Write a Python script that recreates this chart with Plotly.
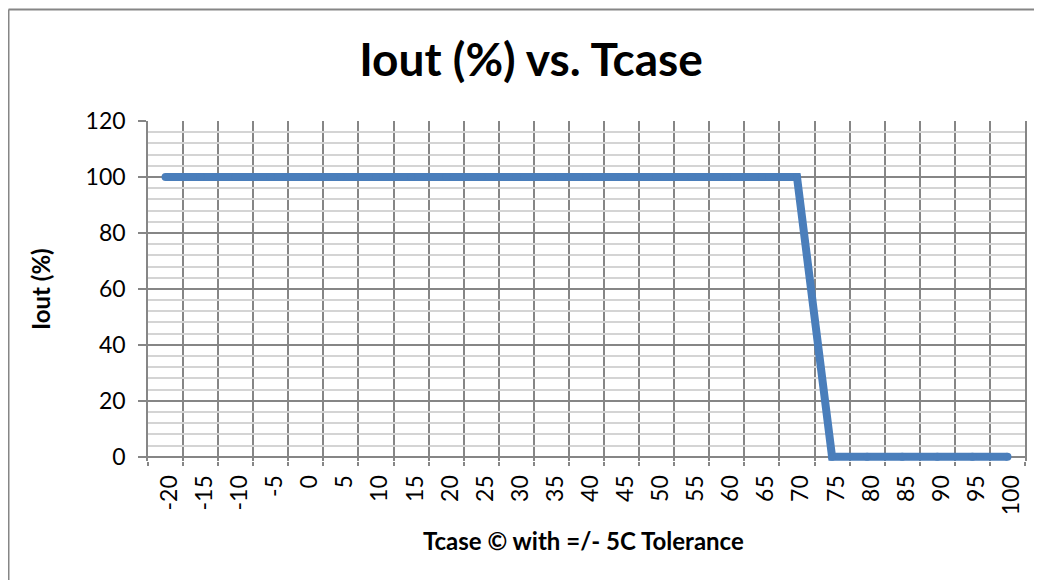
import plotly.graph_objects as go

# Data
tcase = [-20, -15, -10, -5, 0, 5, 10, 15, 20, 25, 30, 35, 40, 45, 50, 55, 60, 65, 70,
         75, 80, 85, 90, 95, 100]
iout = [100, 100, 100, 100, 100, 100, 100, 100, 100, 100, 100, 100, 100, 100, 100, 100, 100, 100, 100,
        0, 0, 0, 0, 0, 0]
tick_labels = ["-20", "-15", "-10", "-5", "0", "5", "10", "15", "20", "25", "30", "35", "40",
               "45", "50", "55", "60", "65", "70", "75", "80", "85", "90", "95", "100"]
y_ticks = [0, 20, 40, 60, 80, 100, 120]

GRID = "#868686"
MINOR = "#d4d4d4"
LINE = "#4a7ebb"
FONT = "Lato"

OFF = 8  # page body margin
W, H = 1034, 572
L, R, T, B = 140, 17, 113, 119
pw = W - L - R
ph = H - T - B


def px_x(p):
    # screen px -> paper coords
    return (p - OFF - L) / pw


def px_y(p):
    return (H - B - (p - OFF)) / ph


fig = go.Figure()
fig.add_trace(go.Scatter(
    x=tcase, y=iout, mode="lines+markers",
    line=dict(color=LINE, width=8),
    marker=dict(color=LINE, size=8, line=dict(width=0)),
    showlegend=False, hoverinfo="x+y",
))

fig.update_layout(
    width=W, height=H,
    margin=dict(l=L, r=R, t=T, b=B, autoexpand=False),
    paper_bgcolor="white", plot_bgcolor="white",
    title=dict(
        text="Iout (%) vs. Tcase",
        font=dict(family=FONT, size=46, color="black", weight="bold"),
        x=(531 - OFF) / W, xanchor="center", xref="container",
        y=1 - (60 - OFF) / H, yanchor="middle", yref="container",
    ),
    xaxis=dict(
        range=[-22.5, 102.5],
        tickmode="array", tickvals=tcase, ticktext=tick_labels,
        tickangle=-90,
        ticks="outside", ticklen=4, tickcolor="rgba(0,0,0,0)",
        ticklabelshift=4,
        tickfont=dict(family=FONT, size=23, color="black"),
        showgrid=False, zeroline=False, showline=False,
        minor=dict(tick0=-22.5, dtick=5, ticks="outside", ticklen=4,
                   tickcolor=GRID, tickwidth=1.5,
                   showgrid=True, gridcolor=GRID, gridwidth=1.5),
    ),
    yaxis=dict(
        range=[-1.5, 120],
        tickmode="array", tickvals=y_ticks,
        ticks="outside", ticklen=8, tickcolor=GRID, tickwidth=1.5,
        tickfont=dict(family=FONT, size=23, color="black"),
        ticklabelstandoff=8,
        showgrid=True, gridcolor=GRID, gridwidth=1.5,
        zeroline=True, zerolinecolor=GRID, zerolinewidth=1.5,
        showline=True, linecolor=GRID, linewidth=1.5, mirror=True,
        minor=dict(dtick=4, tick0=0, showgrid=True, gridcolor=MINOR, gridwidth=1.5, ticks=""),
    ),
    annotations=[
        dict(text="Tcase \u00a9 with =/- 5C Tolerance", xref="paper", yref="paper",
             x=px_x(583), y=px_y(540), xanchor="center", yanchor="middle", showarrow=False,
             font=dict(family=FONT, size=24, color="black", weight="bold")),
        dict(text="Iout (%)", xref="paper", yref="paper", textangle=-90,
             x=px_x(40), y=px_y(289), xanchor="center", yanchor="middle", showarrow=False,
             font=dict(family=FONT, size=24, color="black", weight="bold")),
    ],
    shapes=[
        dict(type="line", xref="paper", yref="paper", x0=px_x(8.5), x1=px_x(1060),
             y0=px_y(9.5), y1=px_y(9.5), line=dict(color=GRID, width=2)),
        dict(type="line", xref="paper", yref="paper", x0=px_x(8.5), x1=px_x(8.5),
             y0=px_y(9.5), y1=px_y(600), line=dict(color=GRID, width=2)),
    ],
)

fig.write_html("out.html")
